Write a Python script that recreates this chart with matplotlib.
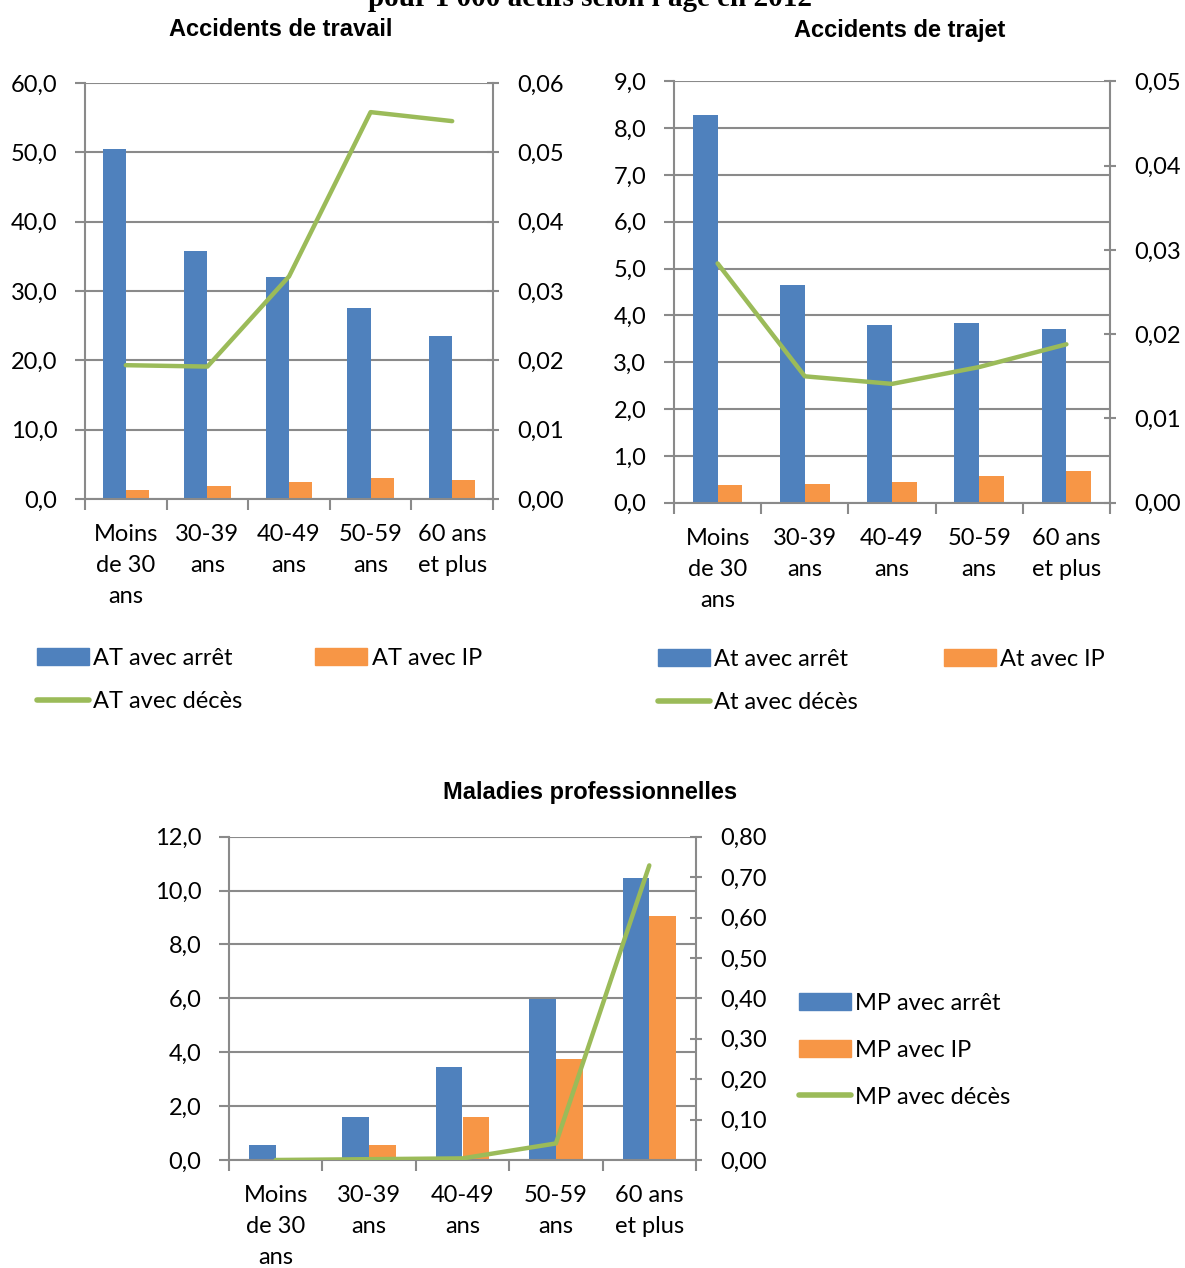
import matplotlib
matplotlib.use("Agg")
import matplotlib.pyplot as plt
from matplotlib.ticker import FuncFormatter, FixedLocator
from matplotlib.lines import Line2D
from matplotlib.patches import Patch

plt.rcParams['font.family'] = ['Lato', 'DejaVu Sans']

BLUE = '#4F81BD'
ORANGE = '#F79646'
GREEN = '#9BBB59'
GRID = '#8a8a8a'
FS = 17

ages = ["Moins\nde 30\nans", "30-39\nans", "40-49\nans", "50-59\nans", "60 ans\net plus"]

# accidents de travail
at_arret = [50.5, 35.8, 32.0, 27.6, 23.5]
at_ip = [1.3, 1.9, 2.5, 3.1, 2.8]
at_deces = [0.0193, 0.0191, 0.0321, 0.0558, 0.0545]

# accidents de trajet
tr_arret = [8.29, 4.64, 3.79, 3.84, 3.70]
tr_ip = [0.37, 0.39, 0.45, 0.56, 0.67]
tr_deces = [0.0284, 0.0150, 0.0141, 0.0161, 0.0188]

# maladies professionnelles
mp_arret = [0.55, 1.60, 3.44, 5.99, 10.47]
mp_ip = [0.08, 0.55, 1.60, 3.74, 9.06]
mp_deces = [0.000, 0.002, 0.004, 0.041, 0.729]


def comma(fmt):
    return FuncFormatter(lambda v, p: fmt.format(v).replace('.', ','))


def panel(fig, rect, arret, ip, deces, ymax, ystep, y2max, y2step, fmt1, fmt2):
    ax = fig.add_axes(rect)
    x = list(range(len(ages)))
    w = 0.285
    ax.bar([i - w / 2 for i in x], arret, width=w, color=BLUE, zorder=2)
    ax.bar([i + w / 2 for i in x], ip, width=w, color=ORANGE, zorder=2)
    ax.set_xlim(-0.5, len(ages) - 0.5)
    ax.set_ylim(0, ymax)
    n = int(round(ymax / ystep))
    ax.set_yticks([k * ystep for k in range(n + 1)])
    ax.yaxis.set_major_formatter(comma(fmt1))
    ax.grid(axis='y', color=GRID, lw=1.5, zorder=0)
    ax.set_axisbelow(True)
    ax.set_xticks(x)
    ax.set_xticklabels(ages, linespacing=1.6)
    ax.xaxis.set_minor_locator(FixedLocator([i - 0.5 for i in range(len(ages) + 1)]))
    ax.tick_params(axis='x', which='major', length=0, pad=18, labelsize=FS)
    ax.tick_params(axis='x', which='minor', length=8, width=1.5, color=GRID)
    ax.tick_params(axis='y', length=7, width=1.5, color=GRID, pad=13, labelsize=FS)
    for s in ['top', 'right']:
        ax.spines[s].set_visible(False)
    for s in ['left', 'bottom']:
        ax.spines[s].set_color(GRID)
        ax.spines[s].set_linewidth(1.5)

    ax2 = ax.twinx()
    ax2.plot(x, deces, color=GREEN, lw=3.2, solid_capstyle='round', zorder=3)
    ax2.set_ylim(0, y2max)
    m = int(round(y2max / y2step))
    ax2.set_yticks([k * y2step for k in range(m + 1)])
    ax2.yaxis.set_major_formatter(comma(fmt2))
    ax2.tick_params(axis='y', direction='inout', length=9, width=1.5, color=GRID,
                    pad=13, labelsize=FS)
    for s in ['top', 'left', 'bottom']:
        ax2.spines[s].set_visible(False)
    ax2.spines['right'].set_color(GRID)
    ax2.spines['right'].set_linewidth(1.5)
    return ax, ax2


def handles(prefix):
    return [Patch(color=BLUE, label=prefix + " avec arrêt"),
            Line2D([], [], color=GREEN, lw=4, solid_capstyle='round', label=prefix + " avec décès"),
            Patch(color=ORANGE, label=prefix + " avec IP")]


fig = plt.figure(figsize=(11.85, 12.68), dpi=100)

fig.text(0.498, 1 - 6 / 1268, "pour 1 000 actifs selon l'âge en 2012", ha='center', va='baseline',
         fontsize=21, fontweight='bold', family=['Liberation Serif', 'DejaVu Serif'])

title_font = dict(fontsize=17, fontweight='bold', family=['Liberation Sans Narrow', 'Liberation Sans', 'DejaVu Sans'])
fig.text(281 / 1185, 1 - 30 / 1268, "Accidents de travail", ha='center', va='center', **title_font)
fig.text(900 / 1185, 1 - 30 / 1268, "Accidents de trajet", ha='center', va='center', **title_font)
fig.text(590 / 1185, 1 - 793 / 1268, "Maladies professionnelles", ha='center', va='center', **title_font)

leg_kw = dict(frameon=False, fontsize=FS, handlelength=2.2, handleheight=0.75, handletextpad=0.18,
              borderpad=0)

# Accidents de travail
panel(fig, [85 / 1185, 1 - 499 / 1268, 408 / 1185, 416 / 1268],
      at_arret, at_ip, at_deces, 60, 10, 0.06, 0.01, "{:.1f}", "{:.2f}")
fig.legend(handles=handles("AT"), ncol=2, loc='upper left', bbox_to_anchor=(25 / 1185, 1 - 636 / 1268),
           columnspacing=3.1, labelspacing=0.95, **leg_kw)

# Accidents de trajet
panel(fig, [674 / 1185, 1 - 502.7 / 1268, 436 / 1185, 421.3 / 1268],
      tr_arret, tr_ip, tr_deces, 9, 1, 0.05, 0.01, "{:.1f}", "{:.2f}")
fig.legend(handles=handles("At"), ncol=2, loc='upper left', bbox_to_anchor=(646 / 1185, 1 - 637 / 1268),
           columnspacing=3.65, labelspacing=0.95, **leg_kw)

# Maladies professionnelles
panel(fig, [229 / 1185, 1 - 1160 / 1268, 467 / 1185, 323.3 / 1268],
      mp_arret, mp_ip, mp_deces, 12, 2, 0.8, 0.1, "{:.1f}", "{:.2f}")
h = handles("MP")
fig.legend(handles=[h[0], h[2], h[1]], loc='upper left', bbox_to_anchor=(787 / 1185, 1 - 981 / 1268),
           labelspacing=1.1, **leg_kw)

fig.savefig("out.png", dpi=100)
